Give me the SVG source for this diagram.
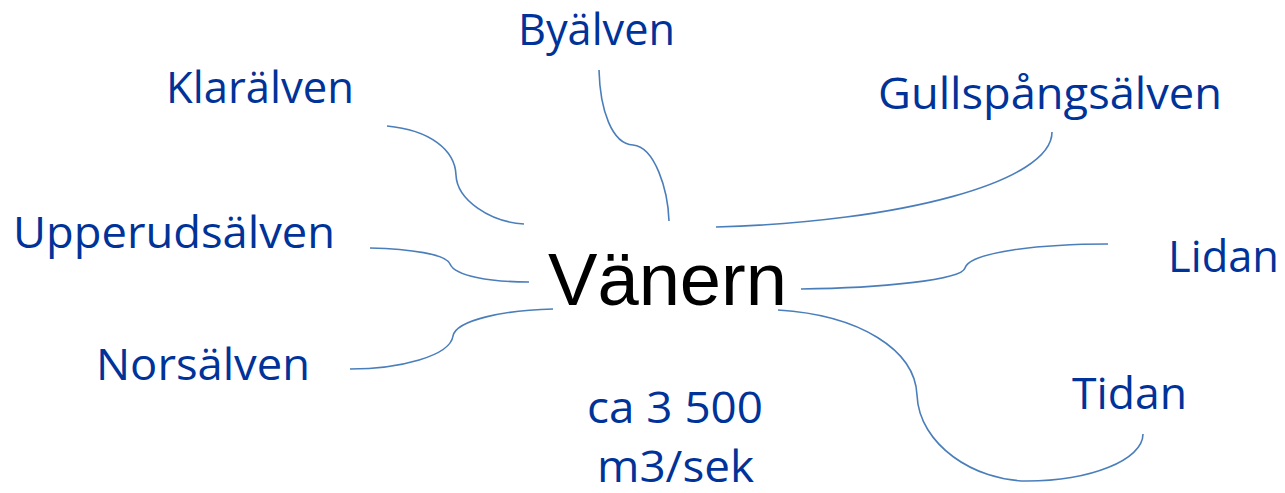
<svg xmlns="http://www.w3.org/2000/svg" width="1285" height="493" viewBox="0 0 1285 493">
<style>
.lbl{font-family:"Open Sans","Liberation Sans",sans-serif;font-size:44px;fill:#003399}
.main{font-family:"Liberation Sans",Arial,sans-serif;font-size:74px;fill:#000}
.c{fill:none;stroke:#4a7ebb;stroke-width:1.6}
</style>
<rect width="1285" height="493" fill="#fff"/>
<g id="connectors">
<path class="c" d="M387,126 C430,130 455,150 456,175 C457,200 490,222 524,224"/>
<path class="c" d="M370,248 C410,249 446,254 450,264 C455,276 490,282 529,282"/>
<path class="c" d="M553,309 C505,310 456,320 453,336 C450,356 400,369 350,369"/>
<path class="c" d="M599,70 C600,110 612,144 633,145 C655,147 668,190 669,221"/>
<path class="c" d="M716,227 C900,222 1052,182 1052,132"/>
<path class="c" d="M801,289 C880,288 962,280 965,268 C970,252 1040,244 1108,244"/>
<path class="c" d="M778,310 C860,315 915,350 917,395 C919,445 975,481 1027,481 C1090,481 1143,460 1143,434"/>
</g>
<g id="vanern"><text class="main" x="548" y="305" textLength="239" lengthAdjust="spacingAndGlyphs">Vänern</text></g>
<g id="byalven"><text class="lbl" x="518" y="45" textLength="157" lengthAdjust="spacingAndGlyphs">Byälven</text></g>
<g id="klaralven"><text class="lbl" x="166" y="103" textLength="188" lengthAdjust="spacingAndGlyphs">Klarälven</text></g>
<g id="gullspangsalven"><text class="lbl" x="878" y="109" textLength="344" lengthAdjust="spacingAndGlyphs">Gullspångsälven</text></g>
<g id="upperudsalven"><text class="lbl" x="13" y="248" textLength="322" lengthAdjust="spacingAndGlyphs">Upperudsälven</text></g>
<g id="lidan"><text class="lbl" x="1168" y="272" textLength="111" lengthAdjust="spacingAndGlyphs">Lidan</text></g>
<g id="norsalven"><text class="lbl" x="96" y="380" textLength="214" lengthAdjust="spacingAndGlyphs">Norsälven</text></g>
<g id="tidan"><text class="lbl" x="1072" y="409" textLength="115" lengthAdjust="spacingAndGlyphs">Tidan</text></g>
<g id="flow">
<text class="lbl" x="587" y="423" textLength="176" lengthAdjust="spacingAndGlyphs">ca 3 500</text>
<text class="lbl" x="597" y="482" textLength="157" lengthAdjust="spacingAndGlyphs">m3/sek</text>
</g>
</svg>
